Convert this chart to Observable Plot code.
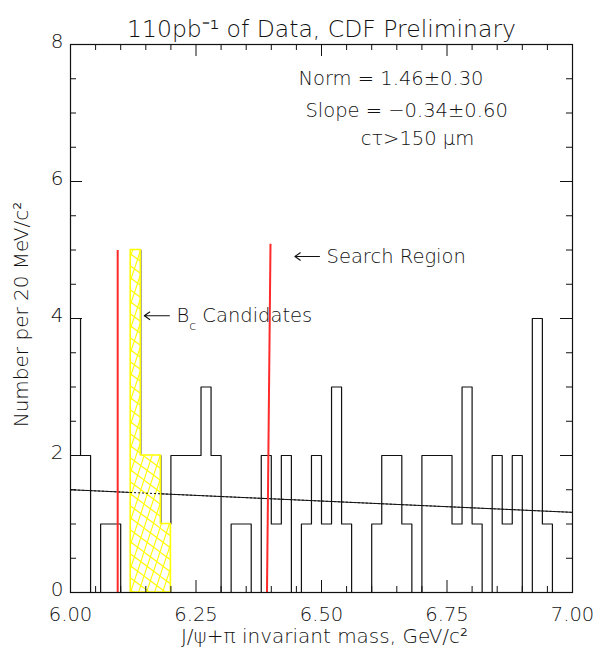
<!DOCTYPE html>
<html><head><meta charset="utf-8">
<script src="https://cdn.jsdelivr.net/npm/d3@7"></script>
<script src="https://cdn.jsdelivr.net/npm/@observablehq/plot@0.6"></script>
<style>body{margin:0;background:#fff}</style>
</head><body><div id="chart"></div>
<script>
// ---- data ----
const binStart = 6.00, binWidth = 0.02;
const counts = [4,2,0,1,1,0,5,2,2,1, 2,2,2,3,2,0,1,1,0,2, 1,2,0,1,2,1,3,1,0,0,
                1,2,2,1,0,2,2,2,1,3, 1,0,2,1,2,0,4,1,0,0];
const candStart = 6.12;
const candCounts = [5,2,2,1];
const fitX = [6.00, 7.00];
const fitY = [1.50, 1.17];
const redX1 = [6.094, 6.3914];
const redX2 = [6.094, 6.3984];
const redTop = [5.0, 5.09];
const xMajor = [6.00, 6.25, 6.50, 6.75, 7.00];
const xMinor = [6.05,6.10,6.15,6.20,6.30,6.35,6.40,6.45,6.55,6.60,6.65,6.70,6.80,6.85,6.90,6.95];
const yMajor = [0, 2, 4, 6, 8];
const yMinor = [0.5,1,1.5,2.5,3,3.5,4.5,5,5.5,6.5,7,7.5];
const title = "110pb⁻¹ of Data, CDF Preliminary";
const xLabel = "J/ψ+π invariant mass, GeV/c²";
const yLabel = "Number per 20 MeV/c²";
const noteText = ["Norm = 1.46±0.30", "Slope = −0.34±0.60", "cτ>150 μm", "Search Region", "B_{c} Candidates"];
const noteX = [6.454, 6.468, 6.578, 6.510, 6.211];
const noteY = [7.50, 7.04, 6.62, 4.905, 4.04];
const arrowFrom = [6.496, 6.197];
const arrowTo = [6.447, 6.147];
const arrowY = [4.905, 4.04];

// ---- layout ----
const W = 598, H = 658, mL = 70, mR = 26, mT = 44, mB = 66;
const plotW = W - mL - mR, plotH = H - mT - mB;
const yPx = 8 / plotH, xPx = 1 / plotW;
const majLen = 12, minLen = 6;

const histPts = counts.map((c, i) => ({x: binStart + binWidth * i, y: c}));
histPts.push({x: binStart + binWidth * counts.length, y: counts[counts.length - 1]});
const candPts = candCounts.map((c, i) => ({x: candStart + binWidth * i, y: c}));
candPts.push({x: candStart + binWidth * candCounts.length, y: candCounts[candCounts.length - 1]});
const fitPts = fitX.map((x, i) => ({x, y: fitY[i]}));
const reds = redX1.map((x, i) => ({x1: x, x2: redX2[i], y1: 0, y2: redTop[i]}));
const notes = noteText.map((t, i) => ({text: t, x: noteX[i], y: noteY[i]}));
const arrows = arrowFrom.map((x, i) => ({x1: x, x2: arrowTo[i], y: arrowY[i]}));

const ink = "#111";
const chart = Plot.plot({
  width: W, height: H,
  marginLeft: mL, marginRight: mR, marginTop: mT, marginBottom: mB,
  x: {domain: [6, 7], axis: null},
  y: {domain: [0, 8], axis: null},
  style: {fontFamily: "'DejaVu Sans', sans-serif", fontWeight: 200, background: "#fff", color: ink},
  marks: [
    Plot.line(histPts, {x: "x", y: "y", curve: "step-after", stroke: ink, strokeWidth: 1.2}),
    Plot.line(fitPts, {x: "x", y: "y", stroke: ink, strokeWidth: 1}),
    Plot.areaY(candPts, {x: "x", y: "y", curve: "step-after", fill: "url(#hatch)", stroke: "#ffff00", strokeWidth: 1.6}),
    Plot.line(fitPts, {x: "x", y: "y", stroke: ink, strokeWidth: 1, strokeDasharray: "1.2,2.8"}),
    Plot.link(reds, {x1: "x1", x2: "x2", y1: "y1", y2: "y2", stroke: "#ff2a2a", strokeWidth: 2}),
    // ticks (inward, on all four sides)
    Plot.ruleX(xMajor, {x: d => d, y1: 0, y2: majLen * yPx, stroke: ink}),
    Plot.ruleX(xMajor, {x: d => d, y1: 8 - majLen * yPx, y2: 8, stroke: ink}),
    Plot.ruleX(xMinor, {x: d => d, y1: 0, y2: minLen * yPx, stroke: ink}),
    Plot.ruleX(xMinor, {x: d => d, y1: 8 - minLen * yPx, y2: 8, stroke: ink}),
    Plot.ruleY(yMajor, {y: d => d, x1: 6, x2: 6 + majLen * xPx, stroke: ink}),
    Plot.ruleY(yMajor, {y: d => d, x1: 7 - majLen * xPx, x2: 7, stroke: ink}),
    Plot.ruleY(yMinor, {y: d => d, x1: 6, x2: 6 + minLen * xPx, stroke: ink}),
    Plot.ruleY(yMinor, {y: d => d, x1: 7 - minLen * xPx, x2: 7, stroke: ink}),
    Plot.frame({stroke: ink, strokeWidth: 1.2}),
    // tick labels
    Plot.text(xMajor, {x: d => d, y: 0, text: d => d.toFixed(2), dy: 22, fontSize: 19.5, fill: ink}),
    Plot.text(yMajor, {x: 6, y: d => d, text: d => String(d), dx: -7, dy: -3, textAnchor: "end", fontSize: 20, fill: ink}),
    // titles
    Plot.text([title], {text: d => d, frameAnchor: "top", textAnchor: "middle", dy: -24, fontSize: 23.5, fill: ink}),
    Plot.text([xLabel], {text: d => d, frameAnchor: "bottom", textAnchor: "middle", dx: 3, dy: 50, fontSize: 20, fill: ink}),
    Plot.text([yLabel], {text: d => d, frameAnchor: "left", textAnchor: "middle", dx: -49, dy: -4, rotate: -90, fontSize: 20, fill: ink}),
    // annotations
    Plot.text(notes, {x: "x", y: "y", text: "text", textAnchor: "start", fontSize: 19.5, fill: ink}),
    Plot.arrow(arrows, {x1: "x1", x2: "x2", y1: "y", y2: "y", stroke: ink, strokeWidth: 1.1, headLength: 9, headAngle: 70})
  ]
});

// hatch pattern for the candidate bins
const svgNS = "http://www.w3.org/2000/svg";
const defs = document.createElementNS(svgNS, "defs");
defs.innerHTML = `<pattern id="hatch" patternUnits="userSpaceOnUse" width="16" height="24">
  <rect width="16" height="24" fill="#fff"/>
  <path d="M-0.33,25 L8.33,-1 M7.67,25 L16.33,-1 M-1,-0.75 L17,12.75 M-1,11.25 L17,24.75"
        stroke="#ffff00" stroke-width="1.1" fill="none"/>
</pattern>`;
chart.insertBefore(defs, chart.firstChild);

// subscripts as real text
chart.querySelectorAll("text").forEach(el => {
  const s = el.textContent;
  if (!/[\^_]\{/.test(s)) return;
  el.textContent = "";
  s.split(/([\^_]\{[^}]*\})/).forEach(part => {
    if (!part) return;
    const t = document.createElementNS(svgNS, "tspan");
    const m = part.match(/^([\^_])\{([^}]*)\}$/);
    if (m) {
      t.textContent = m[2];
      t.setAttribute("baseline-shift", m[1] === "^" ? "super" : "sub");
      t.setAttribute("font-size", "65%");
    } else t.textContent = part;
    el.appendChild(t);
  });
});
document.getElementById("chart").appendChild(chart);
</script>
</body></html>
